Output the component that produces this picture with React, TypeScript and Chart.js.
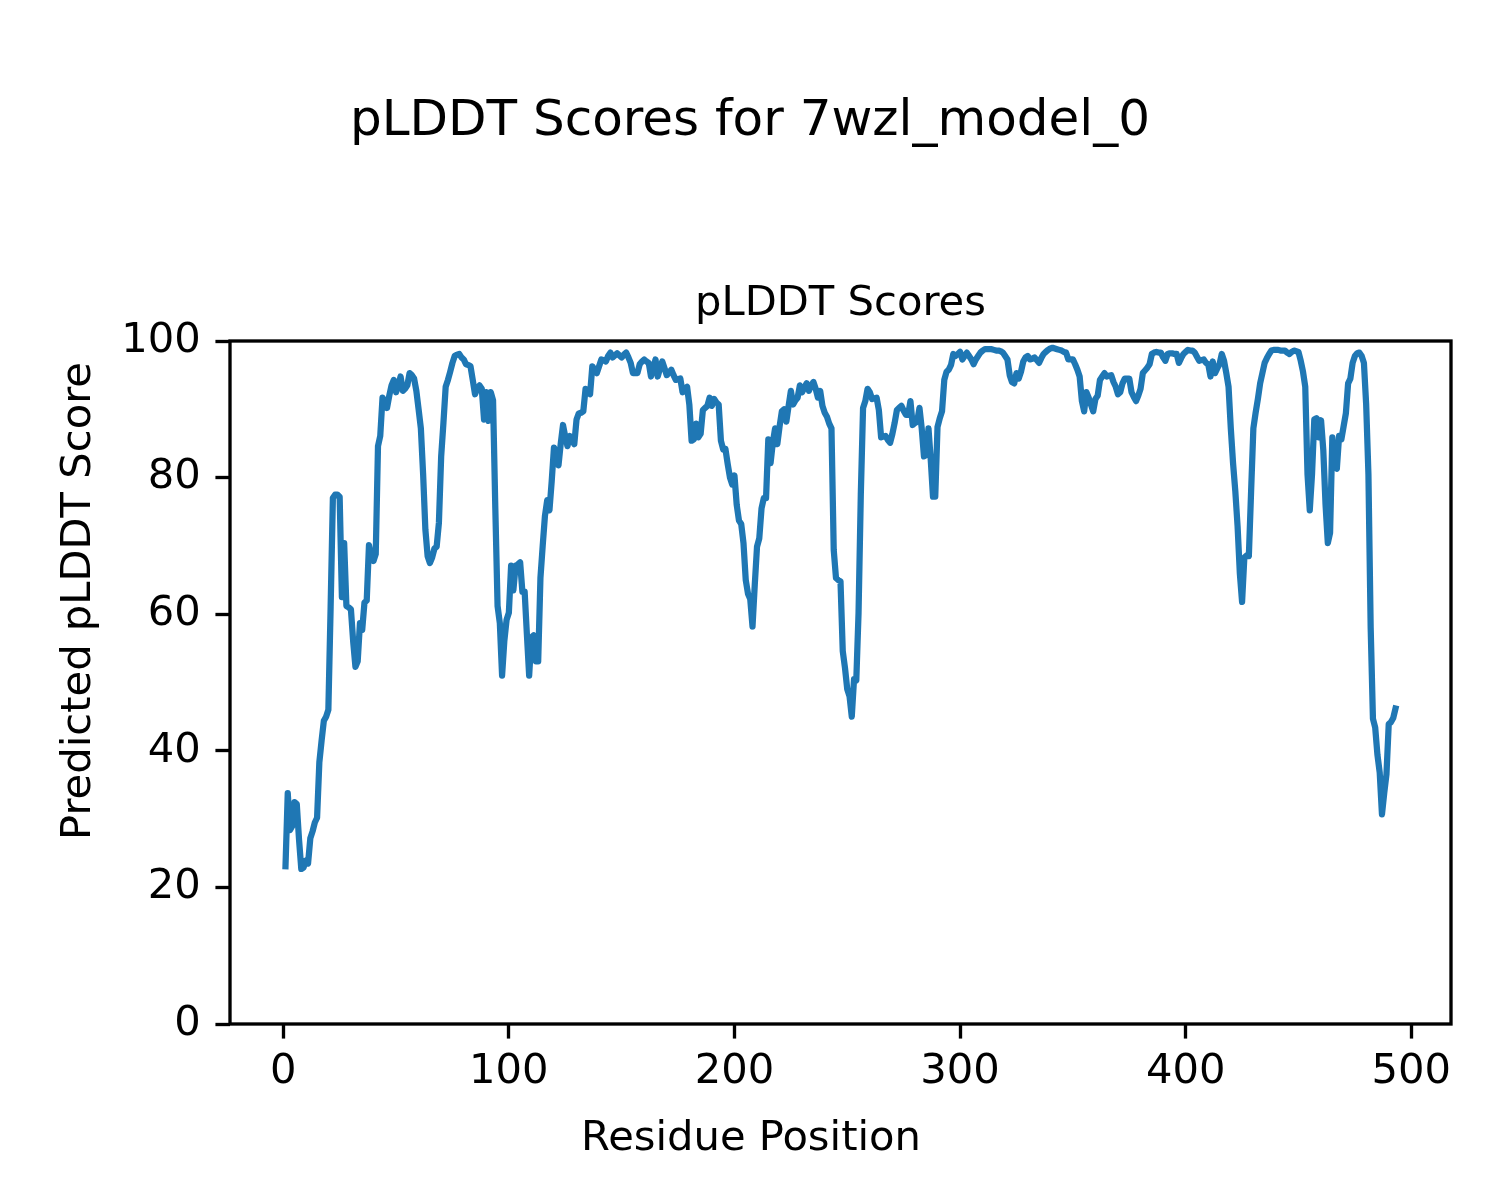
import React, { useEffect, useRef } from "react";
import { Chart, registerables } from "chart.js";

Chart.register(...registerables);

// pLDDT score per residue (residues 1..493)
const plddtScores: number[] = [
  // 1-10
  23.1, 33.8, 28.4, 29.0, 32.5, 32.2, 27.0, 22.7, 22.9, 23.9,
  // 11-20
  23.5, 27.2, 28.2, 29.5, 30.2, 38.3, 41.5, 44.4, 45.0, 46.0,
  // 21-30
  61.0, 77.0, 77.5, 77.5, 77.2, 62.5, 70.4, 61.2, 61.0, 60.7,
  // 31-40
  56.0, 52.3, 53.1, 58.7, 57.7, 61.7, 62.0, 70.1, 68.5, 67.8,
  // 41-50
  68.8, 84.6, 86.1, 91.7, 91.0, 90.2, 92.0, 93.5, 94.3, 92.5,
  // 51-60
  93.5, 94.8, 92.7, 93.0, 93.5, 95.3, 95.0, 94.5, 92.7, 90.0,
  // 61-70
  87.2, 80.5, 72.4, 68.5, 67.5, 68.3, 69.6, 69.9, 73.4, 83.1,
  // 71-80
  88.0, 93.3, 94.3, 95.5, 96.8, 97.8, 98.0, 98.1, 97.6, 97.3,
  // 81-90
  96.6, 96.5, 96.3, 94.3, 92.2, 93.0, 93.5, 93.0, 88.5, 92.5,
  // 91-100
  88.3, 92.5, 91.3, 75.5, 61.2, 58.7, 51.0, 56.1, 59.2, 60.2,
  // 101-110
  67.1, 63.5, 67.1, 67.3, 67.6, 63.3, 63.3, 57.0, 51.0, 56.6,
  // 111-120
  56.9, 53.1, 53.1, 65.3, 70.0, 74.4, 76.7, 75.2, 79.5, 84.4,
  // 121-130
  83.6, 81.8, 85.0, 87.7, 86.0, 84.6, 86.1, 85.5, 84.9, 88.5,
  // 131-140
  89.4, 89.5, 89.7, 93.0, 92.5, 92.2, 96.3, 95.8, 95.3, 96.3,
  // 141-150
  97.3, 97.2, 97.0, 97.8, 98.3, 97.6, 97.9, 98.2, 97.9, 97.6,
  // 151-160
  98.0, 98.3, 97.6, 96.8, 95.3, 95.3, 95.3, 96.6, 97.0, 97.3,
  // 161-170
  97.0, 96.8, 94.8, 96.0, 97.3, 94.8, 96.0, 97.0, 96.0, 95.0,
  // 171-180
  95.4, 95.8, 95.0, 94.3, 94.4, 94.5, 92.5, 93.0, 93.3, 90.7,
  // 181-190
  85.4, 85.6, 87.9, 85.9, 86.4, 89.9, 90.2, 90.5, 91.7, 90.5,
  // 191-200
  91.5, 91.0, 90.7, 85.4, 84.1, 84.2, 82.0, 80.0, 79.0, 80.3,
  // 201-210
  76.0, 73.7, 73.2, 70.4, 65.0, 63.0, 62.2, 58.2, 64.3, 69.9,
  // 211-220
  71.1, 75.5, 77.0, 77.0, 85.6, 82.1, 85.1, 87.2, 84.9, 87.5,
  // 221-230
  89.7, 90.0, 88.2, 90.5, 92.7, 90.7, 91.3, 91.7, 93.5, 92.5,
  // 231-240
  93.2, 93.8, 92.7, 93.5, 94.0, 93.0, 91.7, 92.7, 90.5, 89.5,
  // 241-250
  88.9, 87.9, 87.2, 69.4, 65.3, 65.0, 64.8, 54.6, 52.1, 49.0,
  // 251-260
  48.0, 45.0, 50.5, 50.3, 60.2, 77.5, 90.2, 91.2, 93.0, 92.5,
  // 261-270
  91.5, 91.6, 91.7, 89.9, 85.9, 86.0, 86.1, 85.5, 85.1, 86.4,
  // 271-280
  88.0, 89.9, 90.2, 90.5, 89.8, 89.2, 89.2, 91.2, 87.7, 88.0,
  // 281-290
  88.2, 90.2, 87.2, 83.1, 83.3, 87.2, 82.6, 77.2, 77.2, 87.4,
  // 291-300
  88.7, 89.7, 94.3, 95.5, 95.8, 96.5, 98.1, 97.8, 98.1, 98.4,
  // 301-310
  97.3, 97.8, 98.3, 97.8, 97.3, 96.6, 97.3, 97.8, 98.3, 98.6,
  // 311-320
  98.8, 98.8, 98.8, 98.8, 98.7, 98.6, 98.6, 98.5, 98.3, 97.8,
  // 321-330
  97.3, 95.0, 94.0, 93.8, 95.3, 94.5, 95.5, 97.0, 97.6, 97.8,
  // 331-340
  97.3, 97.4, 97.6, 97.2, 96.8, 97.5, 98.1, 98.4, 98.7, 98.9,
  // 341-350
  99.0, 98.9, 98.8, 98.7, 98.6, 98.4, 98.3, 97.3, 97.3, 97.3,
  // 351-360
  96.6, 95.8, 94.8, 91.2, 89.7, 92.5, 91.7, 90.7, 89.7, 91.5,
  // 361-370
  92.0, 94.3, 94.8, 95.3, 94.8, 94.9, 95.0, 94.0, 93.3, 92.2,
  // 371-380
  92.5, 93.8, 94.5, 94.5, 94.5, 92.5, 91.8, 91.2, 92.0, 93.0,
  // 381-390
  95.3, 95.7, 96.1, 96.6, 98.1, 98.3, 98.4, 98.3, 98.3, 97.6,
  // 391-400
  97.1, 98.1, 98.2, 98.2, 98.1, 98.1, 96.8, 97.5, 98.1, 98.4,
  // 401-410
  98.7, 98.6, 98.6, 98.3, 97.7, 97.1, 97.2, 97.3, 96.8, 96.6,
  // 411-420
  94.8, 97.0, 95.3, 96.0, 96.6, 98.1, 97.1, 95.3, 93.3, 87.2,
  // 421-430
  82.1, 78.0, 72.9, 66.0, 61.8, 68.3, 68.6, 68.5, 78.0, 87.2,
  // 431-440
  89.5, 91.5, 93.8, 95.3, 96.8, 97.5, 98.1, 98.6, 98.7, 98.7,
  // 441-450
  98.7, 98.6, 98.6, 98.6, 98.3, 98.1, 98.4, 98.6, 98.5, 98.4,
  // 451-460
  97.1, 95.5, 93.3, 80.5, 75.2, 80.5, 88.5, 88.7, 85.9, 88.4,
  // 461-470
  84.0, 76.0, 70.4, 71.9, 85.9, 81.6, 81.3, 86.1, 85.6, 87.5,
  // 471-480
  89.4, 93.8, 94.5, 96.8, 97.8, 98.2, 98.3, 97.8, 96.8, 90.7,
  // 481-490
  80.5, 58.0, 44.7, 43.4, 39.4, 36.8, 30.7, 33.8, 36.6, 43.9,
  // 491-493
  44.2, 44.8, 46.2,
];

const firstResidue = 1;
const xTickValues: number[] = [0, 100, 200, 300, 400, 500];
const yTickValues: number[] = [0, 20, 40, 60, 80, 100];

const FIG_TITLE = "pLDDT Scores for 7wzl_model_0";
const AX_TITLE = "pLDDT Scores";
const X_LABEL = "Residue Position";
const Y_LABEL = "Predicted pLDDT Score";

const FONT = "DejaVu Sans";
const PT = 300 / 72; // pixels per point at 300 dpi

export default function App() {
  const canvasRef = useRef<HTMLCanvasElement | null>(null);

  useEffect(() => {
    const canvas = canvasRef.current;
    if (!canvas) return;

    const points = plddtScores.map((v, i) => ({ x: firstResidue + i, y: v }));
    const n = plddtScores.length;
    const xFirst = firstResidue;
    const xLast = firstResidue + n - 1;
    const margin = (xLast - xFirst) * 0.05;

    const tickLen = 3.5 * PT;
    const spineW = 0.8 * PT;

    const framePlugin = {
      id: "frameAndLabels",
      afterDatasetsDraw(chart: any) {
        const { ctx, chartArea } = chart;
        ctx.save();
        ctx.strokeStyle = "#000";
        ctx.lineWidth = spineW;
        ctx.lineJoin = "miter";
        ctx.strokeRect(
          chartArea.left,
          chartArea.top,
          chartArea.right - chartArea.left,
          chartArea.bottom - chartArea.top
        );
        ctx.restore();
      },
      afterDraw(chart: any) {
        const { ctx } = chart;
        ctx.save();
        ctx.fillStyle = "#000";
        ctx.font = `${10 * PT}px "${FONT}"`;
        ctx.textAlign = "center";
        ctx.textBaseline = "middle";
        ctx.fillText(X_LABEL, 751, 1139);
        ctx.translate(79, 601);
        ctx.rotate(-Math.PI / 2);
        ctx.fillText(Y_LABEL, 0, 0);
        ctx.restore();
      },
    };

    const chart = new Chart(canvas, {
      type: "line",
      data: {
        datasets: [
          {
            data: points,
            borderColor: "#1f77b4",
            backgroundColor: "#1f77b4",
            borderWidth: 1.5 * PT,
            pointRadius: 0,
            pointHoverRadius: 0,
            tension: 0,
            fill: false,
            borderJoinStyle: "round",
            borderCapStyle: "square",
            xAxisID: "x",
            yAxisID: "y",
          },
        ],
      },
      options: {
        animation: false,
        responsive: false,
        devicePixelRatio: 1,
        layout: { padding: { left: 0, right: 0, top: 0, bottom: 0 } },
        plugins: {
          legend: { display: false },
          tooltip: { enabled: false },
          title: {
            display: true,
            text: FIG_TITLE,
            color: "#000",
            fullSize: true,
            font: { family: FONT, size: 12 * PT, weight: "normal", lineHeight: 1.2 },
            padding: { top: 92, bottom: 0 },
          },
          subtitle: {
            display: true,
            text: AX_TITLE,
            color: "#000",
            fullSize: false,
            font: { family: FONT, size: 10 * PT, weight: "normal", lineHeight: 1.2 },
            padding: { top: 127.6, bottom: 11.4 },
          },
        },
        scales: {
          x: {
            type: "linear",
            min: xFirst - margin,
            max: xLast + margin,
            afterBuildTicks: (scale: any) => {
              scale.ticks = xTickValues.map((v) => ({ value: v }));
            },
            afterFit: (scale: any) => {
              scale.height = 176;
            },
            grid: {
              display: true,
              drawOnChartArea: false,
              drawTicks: true,
              tickLength: tickLen,
              tickWidth: spineW,
              tickColor: "#000",
            },
            border: { display: false },
            ticks: {
              color: "#000",
              padding: 8.4,
              maxRotation: 0,
              autoSkip: false,
              font: { family: FONT, size: 10 * PT, lineHeight: 1.2 },
              callback: (v: any) => String(v),
            },
          },
          y: {
            type: "linear",
            position: "left",
            min: yTickValues[0],
            max: yTickValues[yTickValues.length - 1],
            afterBuildTicks: (scale: any) => {
              scale.ticks = yTickValues.map((v) => ({ value: v }));
            },
            afterFit: (scale: any) => {
              scale.width = 230;
            },
            grid: {
              display: true,
              drawOnChartArea: false,
              drawTicks: true,
              tickLength: tickLen,
              tickWidth: spineW,
              tickColor: "#000",
            },
            border: { display: false },
            ticks: {
              color: "#000",
              padding: tickLen,
              autoSkip: false,
              font: { family: FONT, size: 10 * PT, lineHeight: 1.2 },
              callback: (v: any) => String(v),
            },
          },
          rightGap: {
            type: "linear",
            position: "right",
            min: 0,
            max: 1,
            display: true,
            afterFit: (scale: any) => {
              scale.width = 49;
            },
            grid: { display: false, drawOnChartArea: false, drawTicks: false },
            border: { display: false },
            ticks: { display: false },
          },
        },
      },
      plugins: [framePlugin],
    } as any);

    return () => {
      chart.destroy();
    };
  }, []);

  return (
    <div
      style={{
        position: "absolute",
        left: 0,
        top: 0,
        width: 1500,
        height: 1200,
        background: "#fff",
      }}
    >
      <canvas
        ref={canvasRef}
        width={1500}
        height={1200}
        style={{ width: 1500, height: 1200, display: "block" }}
      />
    </div>
  );
}
